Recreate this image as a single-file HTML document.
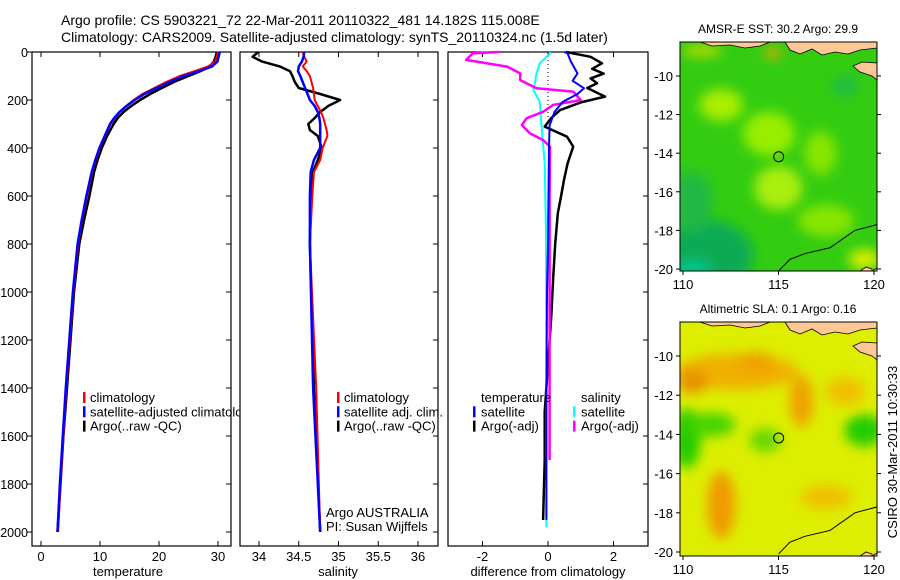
<!DOCTYPE html>
<html><head><meta charset="utf-8">
<style>
html,body{margin:0;padding:0;background:#fff;}
svg{display:block;font-family:"Liberation Sans",sans-serif;}
</style></head>
<body>
<svg id="fig" width="900" height="580" viewBox="0 0 900 580" xmlns="http://www.w3.org/2000/svg">
<defs>
<filter id="blur" x="-50%" y="-50%" width="200%" height="200%"><feGaussianBlur stdDeviation="6"/></filter>
<clipPath id="clipP1"><rect x="32" y="52" width="208" height="494"/></clipPath>
<clipPath id="clipM1"><rect x="680" y="42" width="197" height="229"/></clipPath>
<clipPath id="clipM2"><rect x="680" y="322" width="197" height="234"/></clipPath>
</defs>
<text x="61" y="25" font-size="14">Argo profile: CS 5903221_72 22-Mar-2011 20110322_481 14.182S 115.008E</text>
<text x="61" y="42" font-size="14">Climatology: CARS2009. Satellite-adjusted climatology: synTS_20110324.nc (1.5d later)</text>
<g id="g"></g>
</svg>
<script>
// ---- depth grids and values ----
const tDepth = [0,20,40,60,80,100,125,150,175,200,225,250,275,300,350,400,450,500,600,700,800,1000,1200,1400,1600,1800,2000];
const tempClim = [30,29.8,29.5,28.3,26,23.5,21.2,19.2,17.2,15.7,14.4,13.3,12.5,11.8,10.9,10,9.3,8.7,7.8,7,6.3,5.5,4.9,4.3,3.8,3.3,2.9];
const tempSat  = [30.3,30.1,29.9,29.0,26.8,24.2,21.8,19.6,17.5,15.9,14.5,13.3,12.4,11.7,10.8,9.9,9.2,8.6,7.7,6.9,6.2,5.4,4.8,4.2,3.7,3.2,2.8];
const tempArgo = [29.8,29.6,29.3,28.6,27,25,22.5,20.5,18.5,16.8,15.3,14,13,12.3,11.2,10.3,9.6,9.0,8.2,7.3,6.5,5.6,5.0,4.4,3.8,3.3,2.8];

const sDepth = [0,20,40,60,80,100,125,150,175,200,225,250,275,300,325,350,400,450,500,600,800,1400,2000];
const salClim = [34.55,34.57,34.6,34.55,34.6,34.64,34.66,34.68,34.69,34.7,34.74,34.78,34.81,34.83,34.85,34.86,34.8,34.77,34.69,34.67,34.64,34.72,34.77];
const salSat  = [34.57,34.56,34.54,34.5,34.49,34.52,34.55,34.58,34.61,34.64,34.7,34.74,34.76,34.77,34.77,34.77,34.77,34.69,34.65,34.64,34.64,34.68,34.77];
const salArgo = [33.99,33.92,34.04,34.26,34.39,34.42,34.45,34.5,34.77,35.02,34.87,34.77,34.7,34.62,34.64,34.74,34.79,34.74,34.68,34.65,34.64,34.69,34.77];

const dTA_depth = [0,20,47,70,90,110,130,150,186,210,242,275,311,353,394,464,533,600,672,800,940,1100,1300,1500,1700,1950];
const dTA_val   = [0.55,1.3,1.65,1.35,1.7,1.3,1.5,1.2,1.74,1.0,0.37,0.1,-0.1,0.58,0.77,0.6,0.49,0.4,0.3,0.22,0.16,0.1,0.0,-0.1,-0.1,-0.15];
const dTS_depth = [0,6,40,89,120,151,175,208,250,306,400,800,1000,1400,1950];
const dTS_val   = [0.5,0.6,0.7,0.9,0.75,1.1,0.9,0.45,0.2,0.05,0.03,0.0,-0.03,-0.05,-0.05];
const dSS_depth = [0,6,47,89,131,158,208,306,464,742,1200,1980];
const dSS_val   = [0.06,0.06,-0.25,-0.35,-0.4,-0.45,-0.25,-0.2,-0.1,-0.06,-0.05,-0.05];
const dSA_depth = [0,6,33,61,89,117,151,165,200,221,249,276,304,339,367,394,600,1000,1400,1700];
const dSA_val   = [-1.5,-2.3,-2.5,-1.25,-0.85,-0.85,-0.35,0.77,1.0,0.15,-0.15,-0.65,-0.8,-0.55,-0.15,0.06,0.05,0.05,0.05,0.05];

const depthTicks = [0,200,400,600,800,1000,1200,1400,1600,1800,2000];
const tempTicks = [0,10,20,30];
const salTicks = [34,34.5,35,35.5,36];
const diffTicks = [-2,0,2];
const latTicks = [-10,-12,-14,-16,-18,-20];
const lonTicks = [110,115,120];

const NS = 'http://www.w3.org/2000/svg';
const G = document.getElementById('g');
function el(tag, attrs, parent){const e=document.createElementNS(NS,tag);for(const k in attrs)e.setAttribute(k,attrs[k]);(parent||G).appendChild(e);return e;}

const Y = d => 52 + 0.24*d;
const XT = v => 41 + 5.9*v;
const XS = v => 259 + 79.5*(v-34);
const XD = v => 548 + 32.75*v;

function line(xs, ds, xf, color, w, name){
  const pts = xs.map((v,i)=>xf(v).toFixed(1)+','+Y(ds[i]).toFixed(1)).join(' ');
  const p = el('polyline',{points:pts,fill:'none',stroke:color,'stroke-width':w,'stroke-linejoin':'round'});
  
  
}

function panel(x0,x1,name){
  const r = el('rect',{x:x0,y:52,width:x1-x0,height:494,fill:'none',stroke:'#000','stroke-width':1.2});
  
  
  depthTicks.forEach(d=>{
    el('line',{x1:x1,x2:x1-5,y1:Y(d),y2:Y(d),stroke:'#000'});
  });
}
panel(32,231,'temperature-panel');
panel(240,438,'salinity-panel');
panel(448,648,'difference-panel');
depthTicks.forEach(d=>{
  el('line',{x1:32,x2:27,y1:Y(d),y2:Y(d),stroke:'#000'});
  const t = el('text',{x:28,y:Y(d)+5,'font-size':12.5,'text-anchor':'end'});
  t.textContent = d;
  
  
});
function xticks(ticks, xf, name){
  ticks.forEach(v=>{
    el('line',{x1:xf(v),x2:xf(v),y1:546,y2:541,stroke:'#000'});
    el('line',{x1:xf(v),x2:xf(v),y1:52,y2:57,stroke:'#000'});
    const t = el('text',{x:xf(v),y:561,'font-size':13,'text-anchor':'middle'});
    t.textContent = v;
    
    
  });
}
xticks(tempTicks, XT, 'temperature-tick-label');
xticks(salTicks, XS, 'salinity-tick-label');
xticks(diffTicks, XD, 'difference-tick-label');
[['temperature',128,'temperature-axis-title'],['salinity',338,'salinity-axis-title'],['difference from climatology',548,'difference-axis-title']].forEach(a=>{
  const t = el('text',{x:a[1],y:576,'font-size':13,'text-anchor':'middle'});
  t.textContent = a[0];
  
  
});
el('line',{x1:XD(0),x2:XD(0),y1:52,y2:120,stroke:'#000','stroke-dasharray':'1,3'});

line(tempArgo, tDepth, XT, '#000', 2.5, 'temperature-argo-line');
line(tempClim, tDepth, XT, '#f00', 2, 'temperature-climatology-line');
line(tempSat, tDepth, XT, '#00f', 2.5, 'temperature-satellite-line');

line(salArgo, sDepth, XS, '#000', 2.5, 'salinity-argo-line');
line(salClim, sDepth, XS, '#f00', 2, 'salinity-climatology-line');
line(salSat, sDepth, XS, '#00f', 2.5, 'salinity-satellite-line');

line(dTA_val, dTA_depth, XD, '#000', 2.5, 'temperature-diff-argo-line');
line(dSS_val, dSS_depth, XD, '#0ff', 2, 'salinity-diff-satellite-line');
line(dSA_val, dSA_depth, XD, '#f0f', 2.5, 'salinity-diff-argo-line');
line(dTS_val, dTS_depth, XD, '#00f', 2, 'temperature-diff-satellite-line');

function legend(items, xm, xt, y0, name, clip){
  const g = el('g', clip?{'clip-path':clip}:{});
  
  
  items.forEach((it,i)=>{
    const y = y0 + i*14.3;
    if(it[1]) el('rect',{x:xm,y:y-10,width:2.5,height:11,fill:it[1]},g);
    const t = el('text',{x:xt,y:y,'font-size':13},g);
    t.textContent = it[0];
  });
}
legend([['climatology','#f00'],['satellite-adjusted climatology','#00f'],['Argo(..raw -QC)','#000']],83,90,402,'temperature-legend','url(#clipP1)');
legend([['climatology','#f00'],['satellite adj. clim.','#00f'],['Argo(..raw -QC)','#000']],337,344,402,'salinity-legend');
legend([['temperature',null],['satellite','#00f'],['Argo(-adj)','#000']],473,481,402,'temperature-diff-legend');
legend([['salinity',null],['satellite','#0ff'],['Argo(-adj)','#f0f']],573,581,402,'salinity-diff-legend');
{
  const t1 = el('text',{x:326,y:517,'font-size':13}); t1.textContent='Argo AUSTRALIA';
  
  
  const t2 = el('text',{x:326,y:531,'font-size':13}); t2.textContent='PI: Susan Wijffels';
  
  
}

// ---- maps ----
const LX = lon => 683 + 19.1*(lon-110);
function map(y0, h, latY, base, blobs, title, clip, name){
  const g = el('g',{'clip-path':clip});
  
  
  el('rect',{x:680,y:y0,width:197,height:h,fill:base},g);
  const bg = el('g',{filter:'url(#blur)'},g);
  blobs.forEach(b=>el('ellipse',{cx:LX(b[0]),cy:latY(b[1]),rx:b[2],ry:b[3],fill:b[4]},bg));
  // land at top (islands)
  el('path',{d:`M700 ${y0} L712 ${y0+4} L730 ${y0+3} L745 ${y0+6} L760 ${y0+4} L770 ${y0} Z`,fill:'#fdc896',stroke:'#000','stroke-width':0.8},g);
  el('path',{d:`M785 ${y0} L790 ${y0+8} L800 ${y0+12} L812 ${y0+7} L822 ${y0+13} L835 ${y0+10} L848 ${y0+12} L860 ${y0+8} L877 ${y0+6} L877 ${y0} Z`,fill:'#fdc896',stroke:'#000','stroke-width':0.8},g);
  el('path',{d:`M877 ${y0+21} L862 ${y0+20} L853 ${y0+24} L860 ${y0+30} L872 ${y0+34} L877 ${y0+38} Z`,fill:'#fdc896',stroke:'#000','stroke-width':0.8},g);
  el('path',{d:`M${LX(115)} ${latY(-20.1)} L790 ${latY(-19.5)} L805 ${latY(-19.2)} L830 ${latY(-18.9)} L855 ${latY(-18.0)} L877 ${latY(-17.7)}`,fill:'none',stroke:'#000','stroke-width':1},g);
  el('path',{d:`M872 ${y0+h} L877 ${y0+h-3} L877 ${y0+h} Z M860 ${y0+h} L866 ${y0+h-4} L872 ${y0+h-2} L872 ${y0+h} Z`,fill:'#fdc896',stroke:'#000','stroke-width':0.8},g);
  const c = el('circle',{cx:LX(115.008),cy:latY(-14.182),r:5,fill:'none',stroke:'#000','stroke-width':1});
  
  
  el('rect',{x:680,y:y0,width:197,height:h,fill:'none',stroke:'#000','stroke-width':1});
  latTicks.forEach(v=>{
    el('line',{x1:680,x2:676,y1:latY(v),y2:latY(v),stroke:'#000'});
    el('line',{x1:877,x2:881,y1:latY(v),y2:latY(v),stroke:'#000'});
    const t = el('text',{x:673,y:latY(v)+5,'font-size':13,'text-anchor':'end'}); t.textContent=v;
    
    
  });
  lonTicks.forEach(v=>{
    el('line',{x1:LX(v),x2:LX(v),y1:y0+h,y2:y0+h+4,stroke:'#000'});
    const t = el('text',{x:LX(v),y:y0+h+18,'font-size':13,'text-anchor':'middle'}); t.textContent=v;
    
    
  });
  const tt = el('text',{x:778,y:y0-9,'font-size':12,'text-anchor':'middle'}); tt.textContent=title;
  
  
}
const lat1 = v => 76 + 19.3*(-10 - v);
const lat2 = v => 356 + 19.6*(-10 - v);
map(42,229,lat1,'#33cc11',[
  [111.3,-19.3,45,35,'#11aa55'],[110.5,-16.5,20,30,'#22b844'],[110.5,-20,18,8,'#00c890'],
  [112,-11.5,22,16,'#aaee00'],[114.5,-13,26,22,'#99ee00'],[115,-15.8,24,22,'#aaee11'],
  [117.2,-14,16,22,'#88e600'],[117.5,-17.5,28,16,'#88e600'],[119.5,-19.5,16,10,'#ddee00'],
  [114.7,-8.8,8,5,'#ffa500'],[111,-8.7,20,5,'#ccdd00'],[118.5,-10.5,14,10,'#22bb44']
],'AMSR-E SST: 30.2 Argo: 29.9','url(#clipM1)','sst-map');
map(322,234,lat2,'#ddee00',[
  [112.8,-10.8,62,18,'#f0b000'],[110.5,-11.3,16,12,'#e89000'],[113.8,-10.3,18,10,'#f0a000'],
  [116.2,-12.3,12,26,'#f0a000'],[112,-17.6,14,34,'#f09a00'],
  [110.2,-14.2,14,30,'#22cc00'],[111.5,-13.5,24,12,'#44d400'],[119.5,-13.8,20,16,'#22cc00'],
  [114.3,-14.3,16,12,'#66d800'],[117.5,-17.2,26,12,'#f0c000'],[118.5,-11.8,20,14,'#f0c000']
],'Altimetric SLA: 0.1 Argo: 0.16','url(#clipM2)','sla-map');
{
  const t = el('text',{x:0,y:0,'font-size':13,'text-anchor':'middle',transform:'translate(897,452) rotate(-90)'});
  t.textContent = 'CSIRO 30-Mar-2011 10:30:33';
  
  
}
</script>
</body></html>
